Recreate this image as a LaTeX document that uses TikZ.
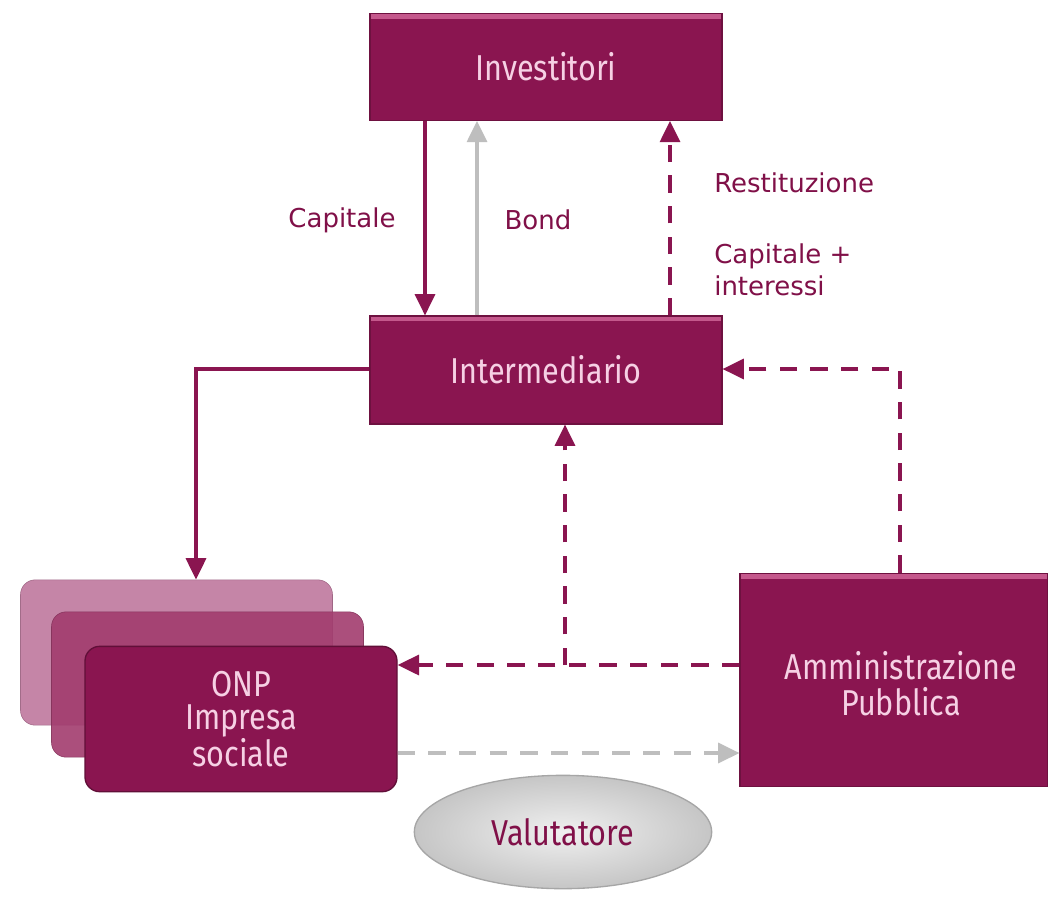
\documentclass[tikz,border=0pt]{standalone}
\usepackage{fontspec}
\setmainfont{DejaVu Sans}
\newfontfamily\boxfont[FakeStretch=0.85]{Fira Sans}
\usetikzlibrary{arrows.meta,shapes.geometric,calc}
\definecolor{maroon}{RGB}{138,21,80}
\definecolor{maroonlt}{RGB}{196,88,140}
\definecolor{lblc}{RGB}{128,16,72}
\definecolor{boxtxt}{RGB}{246,208,228}
\definecolor{greyline}{RGB}{190,190,190}
\definecolor{stackback}{RGB}{188,112,152}
\definecolor{stackmid}{RGB}{162,60,110}
\tikzset{
  x=0.75pt, y=-0.75pt,
  btext/.style={font=\boxfont\fontsize{27}{27}\selectfont},
  mainbox/.style={draw=maroon!80!black, line width=0.8pt, fill=maroon, minimum width=264pt, minimum height=80pt,
    text=boxtxt, btext, align=center, inner sep=0pt,
    path picture={\fill[maroonlt] (path picture bounding box.north west) rectangle ([yshift=-4pt]path picture bounding box.north east);}},
  onpbox/.style={rounded corners=11pt, minimum width=234pt, minimum height=109pt, inner sep=0pt},
  lbl/.style={text=lblc, font=\fontsize{19.5}{24}\selectfont, inner sep=0pt},
  tip/.style={-{Triangle[length=16pt,width=15pt]}},
  mline/.style={draw=maroon, line width=2.5pt, tip},
  mdash/.style={draw=maroon, line width=2.5pt, dash pattern=on 13pt off 10pt, tip},
  gline/.style={draw=greyline, line width=2.5pt, tip},
  gdash/.style={draw=greyline, line width=2.5pt, dash pattern=on 13pt off 10pt, tip},
}
\begin{document}
\begin{tikzpicture}
\useasboundingbox[fill=white] (0,0) rectangle (1048,897);

\node[mainbox] (inv) at (546,67) {Investitori};
\node[mainbox, minimum height=81pt] (int) at (546,370) {Intermediario};
\node[mainbox, minimum width=231pt, minimum height=160pt] (pa) at (894,680) {};
\node[text=boxtxt, btext, align=center, inner sep=0pt] (patxt) at (901,684) {Amministrazione\\Pubblica};

\node[onpbox, fill=stackback, draw=stackback!80!black, opacity=0.85] (onp3) at (176.5,652.5) {};
\node[onpbox, fill=stackmid, draw=stackmid!80!black, opacity=0.9] (onp2) at (207.5,684.5) {};
\node[onpbox, fill=maroon, draw=maroon!70!black, line width=1pt, text=boxtxt,
      font=\boxfont\fontsize{27}{25}\selectfont, align=center] (onp) at (241,719) {ONP\\Impresa\\sociale};

\node[ellipse, minimum width=223pt, minimum height=85pt, draw=gray!70, line width=1pt,
      inner color=gray!12, outer color=gray!45, text=lblc, btext] (val) at (563,832) {Valutatore};

% Investitori <-> Intermediario
\draw[mline] (425,0 |- inv.south) -- (425,0 |- int.north);
\draw[gline] (477,0 |- int.north) -- (477,0 |- inv.south);
\draw[mdash] (670,0 |- int.north) -- (670,0 |- inv.south);

\node[lbl, anchor=center] (lcap) at (342,220) {Capitale};
\node[lbl, anchor=center] (lbond) at (538,220) {Bond};
\node[lbl, anchor=west] (lres) at (714,183) {Restituzione};
\node[lbl, anchor=west, align=left] (lci) at (714,270) {Capitale +\\interessi};

% Intermediario -> ONP
\coordinate (c1) at (196,369);
\draw[mline] (int.west |- c1) -- (c1) -- (196,0 |- onp3.north);

% PA -> Intermediario
\coordinate (c2) at (900,369);
\draw[mdash] (900,0 |- pa.north) -- (c2) -- (int.east |- c2);

% PA -> ONP and -> Intermediario
\coordinate (c3) at (565,665);
\draw[mdash] (pa.west |- c3) -- (onp.east |- c3);
\draw[mdash] (c3) -- (565,0 |- int.south);

% ONP -> PA
\coordinate (c4) at (420,753);
\draw[gdash] (onp.east |- c4) -- (pa.west |- c4);
\end{tikzpicture}
\end{document}
